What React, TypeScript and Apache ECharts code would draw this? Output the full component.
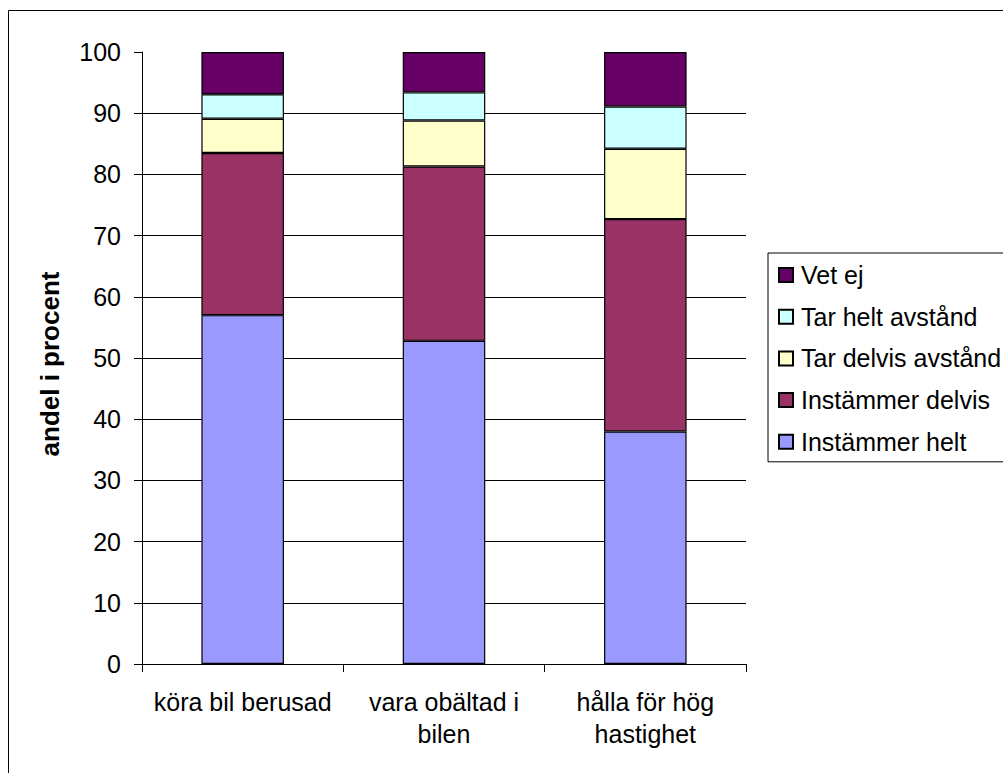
import React, { useEffect, useRef } from "react";
import * as echarts from "echarts";

const categories = ["köra bil berusad", "vara obältad i\nbilen", "hålla för hög\nhastighet"];
const seriesNames = ["Instämmer helt", "Instämmer delvis", "Tar delvis avstånd", "Tar helt avstånd", "Vet ej"];
const instammerHelt = [57.0, 52.8, 38.0];
const instammerDelvis = [26.5, 28.5, 34.7];
const tarDelvisAvstand = [5.6, 7.5, 11.5];
const tarHeltAvstand = [4.0, 4.6, 6.9];
const vetEj = [6.9, 6.6, 8.9];
const seriesColors = ["#9999FF", "#993366", "#FFFFCC", "#CCFFFF", "#660066"];
const legendOrder = ["Vet ej", "Tar helt avstånd", "Tar delvis avstånd", "Instämmer delvis", "Instämmer helt"];
const yAxisTitle = "andel i procent";

const FONT = '"Liberation Sans", Arial, Helvetica, sans-serif';

export default function App() {
  const ref = useRef<HTMLDivElement>(null);
  useEffect(() => {
    if (!ref.current) return;
    const chart = echarts.init(ref.current, null, { renderer: "svg" });
    const values = [instammerHelt, instammerDelvis, tarDelvisAvstand, tarHeltAvstand, vetEj];
    chart.setOption({
      animation: false,
      textStyle: { fontFamily: FONT },
      graphic: [
        {
          type: "rect",
          shape: { x: 8.5, y: 10.5, width: 1200, height: 1000 },
          style: { fill: "none", stroke: "#000", lineWidth: 1 },
          z: -10,
          silent: true,
        },
        {
          type: "text",
          x: 50,
          y: 364,
          rotation: Math.PI / 2,
          silent: true,
          style: {
            text: yAxisTitle,
            fontFamily: FONT,
            fontSize: 26,
            fontWeight: "bold",
            fill: "#000",
            textAlign: "center",
            textVerticalAlign: "middle",
          },
        },
      ],
      grid: { left: 142, top: 52, width: 604, height: 612, containLabel: false },
      legend: {
        orient: "vertical",
        left: 768,
        top: 253,
        data: legendOrder,
        icon: "rect",
        itemWidth: 14,
        itemHeight: 14,
        itemGap: 13.7,
        borderColor: "#000",
        borderWidth: 1,
        padding: [8, 20, 6, 10],
        textStyle: { fontFamily: FONT, fontSize: 25, color: "#000", lineHeight: 28, padding: [0, 0, 0, 3] },
        selectedMode: false,
      },
      xAxis: {
        type: "category",
        data: categories,
        axisLine: { lineStyle: { color: "#000", width: 1 } },
        axisTick: { show: true, length: 8, alignWithLabel: false, lineStyle: { color: "#000" } },
        axisLabel: { fontFamily: FONT, fontSize: 25, color: "#000", margin: 22, lineHeight: 32, interval: 0 },
      },
      yAxis: {
        type: "value",
        min: 0,
        max: 100,
        interval: 10,
        axisLine: { show: true, lineStyle: { color: "#000", width: 1 } },
        axisTick: { show: true, length: 8, lineStyle: { color: "#000" } },
        axisLabel: { fontFamily: FONT, fontSize: 25, color: "#000", margin: 21 },
        splitLine: { show: true, showMaxLine: false, lineStyle: { color: "#000", width: 1 } },
      },
      series: seriesNames.map((name, i) => ({
        name,
        type: "bar",
        stack: "total",
        barWidth: "41%",
        data: values[i],
        itemStyle: { color: seriesColors[i], borderColor: "#000", borderWidth: 1.2 },
        emphasis: { disabled: true },
      })),
    });
    return () => chart.dispose();
  }, []);
  return (
    <div
      ref={ref}
      style={{ position: "absolute", left: 0, top: 0, width: 1003, height: 773, background: "#fff" }}
    />
  );
}
